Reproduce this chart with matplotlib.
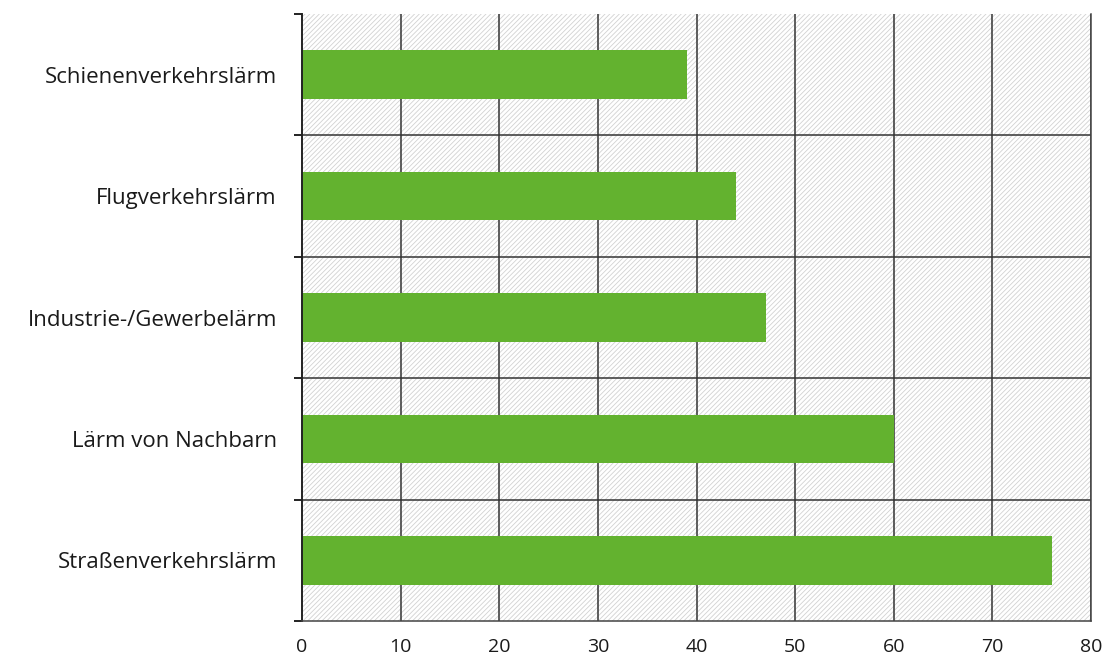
import numpy as np
import matplotlib.pyplot as plt
from matplotlib.patches import Rectangle

# ── Data ──────────────────────────────────────────────────────────────────
categories = ["Straßenverkehrslärm", "Lärm von Nachbarn", "Industrie-/Gewerbelärm",
              "Flugverkehrslärm", "Schienenverkehrslärm"]
values = [76, 60, 47, 44, 39]
x_ticks = [0, 10, 20, 30, 40, 50, 60, 70, 80]

plt.rcParams["font.family"] = ["Open Sans", "DejaVu Sans"]
plt.rcParams["hatch.color"] = "#d2d2d2"
plt.rcParams["hatch.linewidth"] = 0.6

fig = plt.figure(figsize=(11.02, 6.62), dpi=100)
ax = fig.add_axes([302 / 1102, 1 - 621 / 662, 789 / 1102, 607 / 662])

y = np.arange(len(categories))
ax.set_xlim(0, 80)
ax.set_ylim(-0.5, len(categories) - 0.5)

# hatched background
bg = Rectangle((0, -0.5), 80, len(categories), facecolor="white", edgecolor="#d2d2d2",
               hatch="/" * 7, linewidth=0, zorder=0)
ax.add_patch(bg)

# grid lines
for xv in x_ticks[1:]:
    ax.axvline(xv, color="#333333", linewidth=1.1, zorder=1)
for yv in y[:-1] + 0.5:
    ax.axhline(yv, color="#333333", linewidth=1.1, zorder=1)

ax.barh(y, values, height=0.4, color="#63b22f", zorder=2)

ax.spines["top"].set_visible(False)
ax.spines["left"].set_linewidth(1.4)
ax.spines["left"].set_color("#222222")
ax.spines["bottom"].set_color("#444444")
ax.spines["right"].set_color("#444444")
ax.spines["bottom"].set_linewidth(1.1)
ax.spines["right"].set_linewidth(1.1)

ax.set_yticks(y)
ax.set_yticklabels(categories, fontsize=16, color="#1a1a1a")
ax.set_yticks(np.arange(-0.5, len(categories), 1), minor=True)
ax.tick_params(axis="y", which="major", length=0, pad=18)
ax.tick_params(axis="y", which="minor", length=6, width=1.4, color="#222222")

ax.set_xticks(x_ticks)
ax.set_xticklabels([str(v) for v in x_ticks], fontsize=14, color="#1a1a1a")
ax.tick_params(axis="x", length=0, pad=12)

fig.savefig("out.png", dpi=100)
